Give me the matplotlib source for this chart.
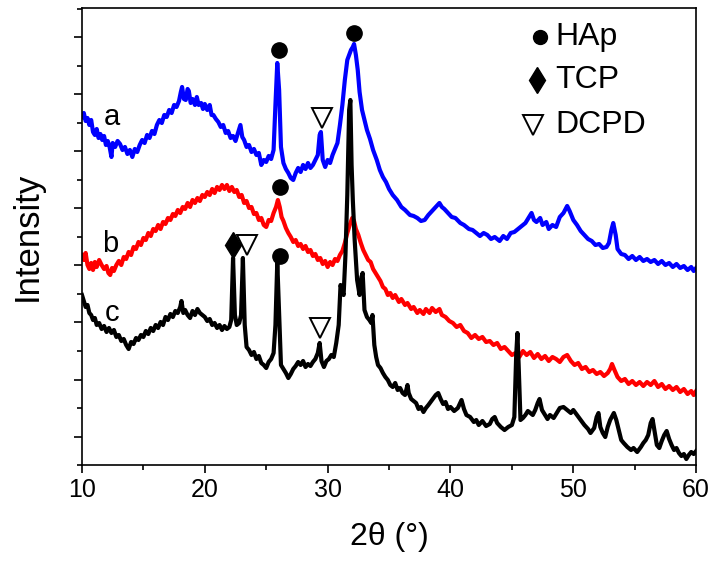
import numpy as np
import matplotlib
matplotlib.use("Agg")
import matplotlib.pyplot as plt
from matplotlib.ticker import MultipleLocator, FixedLocator, NullFormatter

plt.rcParams['font.family'] = ['Liberation Sans', 'DejaVu Sans']

# ---- data (intensity in arbitrary units, offset per pattern) ----
a_theta = [10.0, 10.15, 10.3, 10.45, 10.6, 10.75, 10.9, 11.05, 11.2, 11.35, 11.5, 11.65, 11.8, 11.95,
           12.1, 12.25, 12.4, 12.5, 12.7, 12.9, 13.1, 13.3, 13.5, 13.7, 13.9, 14.1, 14.3, 14.5, 14.7,
           14.9, 15.1, 15.3, 15.5, 15.7, 15.9, 16.1, 16.3, 16.5, 16.7, 16.9, 17.1, 17.3, 17.5, 17.7,
           17.9, 18.05, 18.15, 18.3, 18.45, 18.6, 18.7, 18.85, 19.0, 19.2, 19.35, 19.5, 19.7, 19.85,
           20.0, 20.2, 20.4, 20.55, 20.7, 20.9, 21.1, 21.3, 21.5, 21.7, 21.9, 22.1, 22.3, 22.5, 22.7,
           22.9, 23.05, 23.2, 23.4, 23.6, 23.8, 24.0, 24.2, 24.4, 24.6, 24.8, 25.0, 25.2, 25.4, 25.6,
           25.75, 25.9, 26.05, 26.2, 26.4, 26.6, 26.8, 27.0, 27.2, 27.4, 27.6, 27.8, 28.0, 28.2, 28.4,
           28.6, 28.8, 29.0, 29.2, 29.35, 29.45, 29.6, 29.8, 30.0, 30.2, 30.4, 30.6, 30.8, 31.0, 31.2,
           31.4, 31.6, 31.75, 31.9, 32.05, 32.15, 32.3, 32.45, 32.6, 32.8, 33.0, 33.2, 33.45, 33.7,
           34.0, 34.25, 34.5, 34.75, 35.0, 35.3, 35.65, 36.0, 36.3, 36.7, 37.0, 37.3, 37.6, 37.9,
           38.2, 38.5, 38.8, 39.1, 39.3, 39.5, 39.8, 40.1, 40.4, 40.8, 41.1, 41.5, 41.8, 42.1, 42.4,
           42.7, 43.0, 43.3, 43.6, 44.0, 44.3, 44.6, 44.9, 45.2, 45.5, 45.8, 46.1, 46.4, 46.6, 46.8,
           47.0, 47.3, 47.5, 47.8, 48.0, 48.3, 48.6, 48.9, 49.2, 49.5, 49.7, 50.0, 50.3, 50.6, 50.9,
           51.2, 51.5, 51.8, 52.1, 52.4, 52.7, 52.9, 53.1, 53.25, 53.45, 53.6, 53.9, 54.2, 54.5, 54.8,
           55.1, 55.4, 55.7, 56.0, 56.3, 56.6, 56.9, 57.2, 57.5, 57.8, 58.1, 58.4, 58.7, 59.0, 59.3,
           59.6, 59.8, 60.0]
a_int = [348, 352, 344, 347, 340, 345, 333, 330, 336, 327, 331, 325, 329, 320,
         324, 318, 308, 322, 318, 324, 321, 315, 318, 311, 315, 308, 316, 313, 320,
         325, 322, 330, 327, 334, 331, 340, 345, 342, 350, 348, 355, 352, 360, 358,
         364, 373, 378, 366, 365, 376, 374, 362, 366, 360, 368, 360, 362, 356,
         361, 355, 360, 350, 350, 346, 343, 338, 340, 332, 334, 327, 329, 324, 332,
         340, 328, 325, 318, 320, 313, 316, 310, 312, 300, 305, 303, 309, 306, 315,
         360, 402, 375, 318, 302, 296, 292, 287, 285, 292, 297, 293, 300, 296, 302,
         297, 300, 305, 310, 330, 333, 305, 298, 305, 302, 310, 316, 322, 340, 360,
         385, 405, 410, 415, 418, 421, 410, 395, 373, 355, 345, 335, 326, 315,
         305, 295, 288, 283, 276, 270, 265, 258, 255, 250, 249, 247, 244, 245,
         250, 254, 258, 262, 258, 256, 252, 248, 247, 242, 240, 236, 235, 232, 229,
         232, 230, 226, 228, 224, 229, 226, 232, 233, 236, 239, 242, 248, 252, 245,
         243, 247, 240, 243, 236, 240, 238, 248, 252, 259, 254, 245, 240, 234, 230,
         226, 224, 220, 221, 217, 218, 222, 235, 242, 230, 216, 211, 210, 206, 209,
         205, 208, 204, 206, 203, 205, 201, 204, 200, 202, 198, 201, 197, 199, 195,
         198, 194, 197]

b_theta = [10.0, 10.15, 10.3, 10.45, 10.6, 10.75, 10.9, 11.05, 11.2, 11.4, 11.6, 11.8, 12.0, 12.15,
           12.3, 12.45, 12.6, 12.8, 13.0, 13.2, 13.4, 13.6, 13.8, 14.0, 14.2, 14.4, 14.6, 14.8, 15.0,
           15.2, 15.4, 15.6, 15.8, 16.0, 16.2, 16.4, 16.6, 16.8, 17.0, 17.2, 17.4, 17.6, 17.8, 18.0,
           18.2, 18.4, 18.6, 18.8, 19.0, 19.2, 19.4, 19.6, 19.8, 20.0, 20.2, 20.4, 20.6, 20.8, 21.0,
           21.2, 21.4, 21.6, 21.8, 22.0, 22.2, 22.4, 22.6, 22.8, 23.0, 23.2, 23.4, 23.6, 23.8, 24.0,
           24.2, 24.4, 24.6, 24.8, 25.0, 25.2, 25.4, 25.6, 25.8, 25.95, 26.1, 26.25, 26.4, 26.6, 26.8,
           27.0, 27.2, 27.4, 27.6, 27.8, 28.0, 28.2, 28.4, 28.6, 28.8, 29.0, 29.2, 29.4, 29.6, 29.8,
           30.0, 30.2, 30.4, 30.6, 30.8, 31.0, 31.2, 31.4, 31.6, 31.8, 32.0, 32.15, 32.3, 32.5, 32.7,
           32.9, 33.1, 33.3, 33.5, 33.7, 33.9, 34.1, 34.3, 34.5, 34.7, 34.9, 35.1, 35.3, 35.5, 35.8,
           36.0, 36.3, 36.5, 36.8, 37.0, 37.3, 37.5, 37.8, 38.0, 38.3, 38.5, 38.8, 39.1, 39.3, 39.6,
           39.9, 40.2, 40.5, 40.8, 41.1, 41.4, 41.7, 42.0, 42.3, 42.6, 42.9, 43.2, 43.5, 43.8, 44.1,
           44.4, 44.7, 45.0, 45.3, 45.6, 45.9, 46.2, 46.5, 46.8, 47.1, 47.4, 47.7, 48.0, 48.3, 48.6,
           48.9, 49.2, 49.5, 49.8, 50.1, 50.4, 50.7, 51.0, 51.3, 51.6, 51.9, 52.2, 52.5, 52.8, 53.0,
           53.15, 53.35, 53.6, 53.9, 54.2, 54.5, 54.8, 55.1, 55.4, 55.7, 56.0, 56.3, 56.6, 56.9, 57.2,
           57.5, 57.8, 58.1, 58.4, 58.7, 59.0, 59.3, 59.6, 59.8, 60.0]
b_int = [210, 205, 212, 200, 196, 202, 195, 203, 198, 205, 200, 196, 199, 192,
         190, 197, 194, 200, 204, 200, 208, 206, 213, 210, 218, 216, 223, 220, 227,
         225, 232, 229, 236, 234, 240, 236, 243, 241, 247, 245, 251, 249, 255, 252,
         258, 256, 262, 258, 265, 262, 267, 264, 270, 268, 273, 270, 276, 272, 278,
         275, 280, 276, 280, 274, 278, 273, 275, 268, 270, 262, 264, 257, 258, 251,
         252, 245, 247, 240, 238, 245, 244, 252, 258, 265, 258, 248, 244, 237, 232,
         228, 223, 225, 219, 221, 216, 219, 213, 215, 209, 211, 205, 207, 201, 204,
         198, 203, 200, 206, 204, 210, 214, 222, 232, 240, 247, 244, 236, 230, 222,
         215, 210, 205, 203, 196, 192, 188, 184, 178, 176, 170, 172, 167, 170, 163,
         166, 160, 162, 156, 158, 152, 155, 151, 156, 152, 157, 153, 156, 150, 148,
         144, 142, 138, 140, 134, 132, 127, 130, 126, 128, 123, 124, 120, 122, 116,
         118, 114, 110, 112, 108, 114, 110, 113, 107, 111, 106, 109, 104, 108, 106,
         103, 108, 110, 104, 100, 102, 96, 98, 93, 95, 91, 93, 89, 92, 96,
         101, 95, 88, 84, 86, 81, 84, 80, 83, 79, 83, 80, 84, 78, 81,
         76, 79, 75, 78, 73, 76, 71, 74, 70, 74]

c_theta = [10.0, 10.15, 10.3, 10.45, 10.6, 10.75, 10.9, 11.05, 11.2, 11.4, 11.6, 11.8, 12.0, 12.2,
           12.4, 12.6, 12.8, 13.0, 13.2, 13.4, 13.6, 13.8, 14.0, 14.2, 14.4, 14.6, 14.8, 15.0, 15.2,
           15.4, 15.6, 15.8, 16.0, 16.2, 16.4, 16.6, 16.8, 17.0, 17.2, 17.4, 17.6, 17.8, 18.0, 18.1,
           18.25, 18.4, 18.6, 18.8, 19.0, 19.2, 19.4, 19.6, 19.8, 20.0, 20.2, 20.4, 20.6, 20.8, 21.0,
           21.2, 21.4, 21.6, 21.8, 22.0, 22.15, 22.3, 22.45, 22.6, 22.8, 22.95, 23.1, 23.25, 23.4, 23.6,
           23.8, 24.0, 24.2, 24.4, 24.6, 24.8, 25.0, 25.2, 25.4, 25.6, 25.75, 25.9, 26.05, 26.2, 26.4,
           26.6, 26.8, 27.0, 27.2, 27.4, 27.6, 27.8, 28.0, 28.2, 28.4, 28.6, 28.8, 29.0, 29.2, 29.35,
           29.5, 29.7, 29.9, 30.1, 30.3, 30.5, 30.7, 30.9, 31.05, 31.15, 31.3, 31.45, 31.6, 31.75, 31.85,
           31.95, 32.05, 32.2, 32.4, 32.6, 32.75, 32.85, 33.0, 33.2, 33.4, 33.55, 33.65, 33.8, 33.95, 34.1,
           34.3, 34.5, 34.7, 34.9, 35.1, 35.3, 35.5, 35.7, 35.9, 36.1, 36.3, 36.5, 36.6, 36.8, 37.0,
           37.2, 37.4, 37.6, 37.8, 38.0, 38.2, 38.5, 38.8, 39.0, 39.2, 39.4, 39.6, 39.8, 40.0, 40.3,
           40.6, 40.9, 41.1, 41.3, 41.6, 41.9, 42.1, 42.3, 42.6, 42.9, 43.2, 43.4, 43.6, 43.8, 44.1,
           44.4, 44.7, 45.0, 45.2, 45.35, 45.45, 45.55, 45.7, 45.9, 46.1, 46.3, 46.5, 46.7, 46.9, 47.1,
           47.25, 47.45, 47.7, 47.9, 48.1, 48.4, 48.7, 48.9, 49.2, 49.5, 49.8, 50.0, 50.3, 50.6, 50.9,
           51.2, 51.4, 51.7, 51.9, 52.05, 52.2, 52.4, 52.6, 52.8, 53.0, 53.3, 53.5, 53.7, 53.9, 54.1,
           54.4, 54.7, 54.9, 55.2, 55.5, 55.7, 55.9, 56.1, 56.3, 56.45, 56.6, 56.8, 57.0, 57.2, 57.4,
           57.6, 57.8, 58.0, 58.2, 58.4, 58.6, 58.8, 59.0, 59.2, 59.4, 59.6, 59.8, 60.0]
c_int = [170, 164, 158, 160, 152, 150, 145, 147, 140, 142, 136, 139, 133, 137,
         132, 135, 128, 130, 124, 126, 120, 116, 123, 121, 127, 125, 130, 128, 134,
         131, 137, 134, 140, 137, 143, 140, 148, 145, 151, 148, 154, 152, 158, 164,
         152, 155, 150, 147, 154, 150, 156, 152, 150, 148, 144, 146, 140, 142, 137,
         140, 135, 139, 136, 138, 145, 207, 150, 140, 142, 150, 207, 140, 118, 115,
         110, 113, 106, 109, 102, 100, 97, 103, 106, 112, 140, 203, 150, 100, 96,
         92, 87, 91, 96, 99, 103, 100, 104, 98, 101, 99, 103, 106, 112, 122,
         104, 98, 104, 106, 110, 108, 122, 140, 180, 175, 170, 210, 270, 355, 365,
         300, 265, 225, 185, 170, 188, 192, 155, 148, 145, 142, 150, 120, 108, 100,
         97, 92, 88, 85, 80, 78, 82, 75, 77, 72, 70, 80, 72, 66, 64,
         62, 56, 58, 53, 57, 60, 65, 70, 72, 66, 61, 63, 56, 58, 54,
         57, 65, 56, 50, 48, 43, 45, 40, 44, 39, 41, 46, 48, 42, 38,
         35, 38, 40, 48, 110, 132, 100, 45, 47, 50, 54, 52, 50, 55, 62,
         66, 55, 50, 46, 50, 47, 53, 57, 58, 55, 52, 55, 50, 45, 40,
         36, 32, 37, 48, 52, 38, 32, 28, 38, 45, 52, 45, 35, 25, 22,
         18, 15, 17, 13, 18, 22, 25, 30, 42, 46, 35, 20, 17, 24, 30,
         34, 26, 20, 15, 17, 12, 9, 11, 6, 10, 13, 11, 14]

curve_labels = ['a', 'b', 'c']
curve_colors = ['#0000ff', '#ff0000', '#000000']
label_pos = [(12.45, 348), (12.3, 221), (12.45, 152)]

# phase markers: (2theta, height)
hap_marks = [(26.0, 415), (32.15, 432), (26.1, 278), (26.1, 209)]
tcp_marks = [(22.3, 220)]
dcpd_marks = [(29.55, 347), (23.4, 220), (29.4, 137)]

phase_names = ['HAp', 'TCP', 'DCPD']

fig = plt.figure(figsize=(7.14, 5.70), dpi=100)
ax = fig.add_axes([0.1148, 0.1842, 0.8602, 0.8018])

for th, inten, col in zip([a_theta, b_theta, c_theta], [a_int, b_int, c_int], curve_colors):
    ax.plot(th, inten, color=col, lw=3.0, solid_joinstyle='round')

for lab, (x, y) in zip(curve_labels, label_pos):
    ax.text(x, y, lab, fontsize=21, ha='center', va='center')

ax.plot(*zip(*hap_marks), 'o', color='k', ms=11, ls='none')
ax.plot(*zip(*tcp_marks), 'd', color='k', ms=13, ls='none')
ax.plot(*zip(*dcpd_marks), 'v', mfc='white', mec='k', mew=1.4, ms=14, ls='none')

# legend drawn by hand
leg_y = [428, 385, 340]
leg_mk = [dict(marker='o', mfc='k', mec='k', ms=10),
          dict(marker='d', mfc='k', mec='k', ms=13),
          dict(marker='v', mfc='white', mec='k', mew=1.4, ms=14)]
leg_mx = [47.3, 47.05, 46.75]
for name, y, mk, mx in zip(phase_names, leg_y, leg_mk, leg_mx):
    ax.plot([mx], [y], ls='none', **mk)
    ax.text(48.55, y, name, fontsize=23, va='center', ha='left')

ax.set_xlim(10, 60)
ax.set_ylim(0, 457)
ax.xaxis.set_major_locator(MultipleLocator(10))
ax.xaxis.set_minor_locator(MultipleLocator(5))
ax.yaxis.set_major_locator(FixedLocator(np.arange(28.5, 457, 57)))
ax.yaxis.set_minor_locator(FixedLocator(np.arange(0, 457, 57)))
ax.yaxis.set_major_formatter(NullFormatter())
ax.tick_params(axis='both', which='major', direction='out', length=6, width=1.2, labelsize=18)
ax.tick_params(axis='both', which='minor', direction='out', length=3.5, width=1.2)
for sp in ax.spines.values():
    sp.set_linewidth(1.2)

ax.set_xlabel('2\u03b8 (\u00b0)', fontsize=23, labelpad=14)
ax.set_ylabel('Intensity', fontsize=25, labelpad=18)

fig.savefig('out.png', dpi=100)
